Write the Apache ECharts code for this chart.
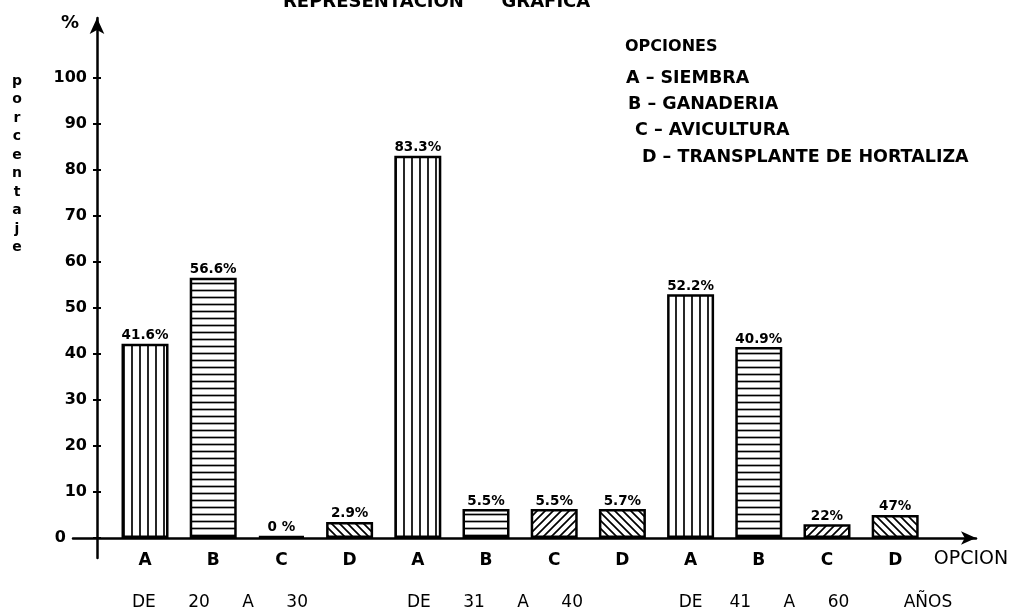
<!DOCTYPE html>
<html><head><meta charset="utf-8">
<script src="https://cdn.jsdelivr.net/npm/echarts@6/dist/echarts.min.js"></script>
<style>html,body{margin:0;padding:0;background:#fff}#c{width:1017px;height:613px}</style>
</head><body><div id="c"></div>
<script>
// ---- data ----
const categories = ['A','B','C','D','A','B','C','D','A','B','C','D'];
const values = [42.2, 56.6, 0.4, 3.5, 83.1, 6.3, 6.3, 6.3, 53.0, 41.5, 3.0, 5.0];
const valueLabels = ['41.6%','56.6%','0 %','2.9%','83.3%','5.5%','5.5%','5.7%','52.2%','40.9%','22%','47%'];
const yTicks = [0,10,20,30,40,50,60,70,80,90,100];
const titleText = 'REPRESENTACION      GRAFICA';
const yName = '%';
const yTitle = 'porcentaje';
const xName = 'OPCION';
const legendTitle = 'OPCIONES';
const legendLines = ['A – SIEMBRA','B – GANADERIA','C – AVICULTURA','D – TRANSPLANTE DE HORTALIZA'];
const groupLabels = ['DE      20      A      30','DE      31      A      40','DE     41      A      60','AÑOS'];

// ---- styles ----
const FONT = '"DejaVu Sans", sans-serif';
function makePattern(kind){
  const s = kind==='B' ? 7 : 8;
  const c = document.createElement('canvas'); c.width = s; c.height = s;
  const g = c.getContext('2d');
  g.fillStyle = '#fff'; g.fillRect(0,0,s,s);
  g.strokeStyle = '#000'; g.lineWidth = 1.7;
  g.beginPath();
  if (kind==='A') { g.moveTo(s/2,0); g.lineTo(s/2,s); }
  else if (kind==='B') { g.moveTo(0,s/2); g.lineTo(s,s/2); }
  else if (kind==='C') { g.moveTo(-1,s+1); g.lineTo(s+1,-1); g.moveTo(-1,1); g.lineTo(1,-1); g.moveTo(s-1,s+1); g.lineTo(s+1,s-1); }
  else { g.moveTo(-1,-1); g.lineTo(s+1,s+1); g.moveTo(s-1,-1); g.lineTo(s+1,1); g.moveTo(-1,s-1); g.lineTo(1,s+1); }
  g.stroke();
  return { image: c, repeat: 'repeat' };
}
const patterns = { A: makePattern('A'), B: makePattern('B'), C: makePattern('C'), D: makePattern('D') };

const chart = echarts.init(document.getElementById('c'), null, { renderer: 'canvas' });
const yMin = -4.35, yMax = 113.04;
const xMin = -1.056, xMax = 12.185;

const legendY = [78, 104, 130, 157];
const legendX = [626, 628, 635, 642];
const groupX = [220, 495, 764, 928];

const graphic = [
  { type: 'text', x: 283, y: 2, style: { text: titleText, font: 'bold 18px ' + FONT, fill: '#000', align: 'left', verticalAlign: 'middle' } },
  { type: 'text', x: 70, y: 23, style: { text: yName, font: 'bold 18px ' + FONT, fill: '#000', align: 'center', verticalAlign: 'middle' } },
  { type: 'text', x: 17, y: 72, style: { text: yTitle.split('').join('\n'), font: 'bold 14px ' + FONT, lineHeight: 18.5, fill: '#000', align: 'center', verticalAlign: 'top' } },
  { type: 'text', x: 971, y: 559, style: { text: xName, font: '19px ' + FONT, fill: '#000', align: 'center', verticalAlign: 'middle' } },
  { type: 'text', x: 625, y: 47, style: { text: legendTitle, font: 'bold 16px ' + FONT, fill: '#000', align: 'left', verticalAlign: 'middle' } }
];
legendLines.forEach((t, i) => graphic.push({ type: 'text', x: legendX[i], y: legendY[i], style: { text: t, font: 'bold 17.5px ' + FONT, fill: '#000', align: 'left', verticalAlign: 'middle' } }));
groupLabels.forEach((t, i) => graphic.push({ type: 'text', x: groupX[i], y: 603, style: { text: t, font: '17px ' + FONT, fill: '#000', align: 'center', verticalAlign: 'middle' } }));

const option = {
  backgroundColor: '#fff',
  animation: false,
  grid: { left: 73, right: 41, top: 18, bottom: 55, containLabel: false },
  xAxis: {
    type: 'value', min: xMin, max: xMax,
    axisLine: { show: true, onZero: true, lineStyle: { color: '#000', width: 2.5 }, symbol: ['none', 'arrow'], symbolSize: [10, 15] },
    axisTick: { show: false },
    splitLine: { show: false },
    axisLabel: {
      customValues: categories.map((_, i) => i),
      formatter: v => categories[Math.round(v)] || '',
      color: '#000', fontFamily: FONT, fontWeight: 'bold', fontSize: 17, margin: -6
    }
  },
  yAxis: [{
    type: 'value', min: yMin, max: yMax, offset: -24,
    axisLine: { show: true, onZero: false, lineStyle: { color: '#000', width: 2.5 }, symbol: ['none', 'arrow'], symbolSize: [11, 16] },
    axisTick: { show: true, length: 4, lineStyle: { color: '#000', width: 2 }, customValues: yTicks },
    splitLine: { show: false },
    axisLabel: {
      customValues: yTicks,
      formatter: v => v === 0 ? '{z|0}' : String(v),
      color: '#000', fontFamily: FONT, fontWeight: 'bold', fontSize: 16, margin: 10,
      rich: { z: { color: '#000', fontFamily: FONT, fontWeight: 'bold', fontSize: 16, padding: [0, 21, 0, 0] } }
    }
  }, {
    type: 'value', min: yMin, max: yMax, offset: -24, position: 'left',
    axisLine: { show: false, onZero: false },
    axisTick: { show: true, inside: true, length: 4, lineStyle: { color: '#000', width: 2 }, customValues: yTicks },
    splitLine: { show: false },
    axisLabel: { show: false }
  }],
  series: [{
    type: 'bar',
    barWidth: 47,
    data: values.map((v, i) => ({ value: [i, v], itemStyle: { color: patterns[categories[i]] } })),
    itemStyle: { borderColor: '#000', borderWidth: 2.5 },
    label: {
      show: true, position: 'top', distance: 1,
      formatter: p => valueLabels[p.dataIndex],
      color: '#000', fontFamily: FONT, fontWeight: 'bold', fontSize: 13.5
    }
  }],
  graphic: graphic
};
chart.setOption(option);
</script>
</body></html>
